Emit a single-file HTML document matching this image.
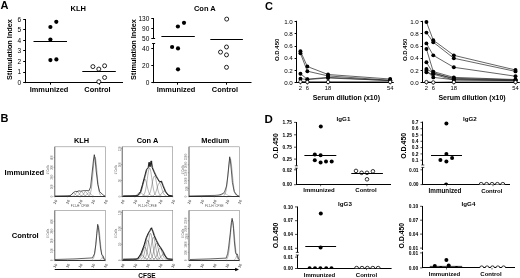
<!DOCTYPE html>
<html><head><meta charset="utf-8"><style>
html,body{margin:0;padding:0;background:#fff;width:520px;height:278px;overflow:hidden}
svg{display:block;font-family:"Liberation Sans", sans-serif;filter:blur(0.3px)}
</style></head><body>
<svg width="520" height="278" viewBox="0 0 520 278">
<rect width="520" height="278" fill="#fff"/>
<text x="0.6" y="9.0" font-size="11" font-weight="bold" text-anchor="start" fill="#000">A</text>
<text x="78.2" y="11" font-size="7.5" font-weight="bold" text-anchor="middle" fill="#000">KLH</text>
<line x1="25.5" y1="19.0" x2="25.5" y2="83.10000000000001" stroke="#000" stroke-width="1.0"/>
<line x1="23.2" y1="82.5" x2="25.5" y2="82.5" stroke="#000" stroke-width="1.0"/>
<text x="21.2" y="85.0" font-size="6.5" text-anchor="end" fill="#000">0</text>
<line x1="23.2" y1="72.5" x2="25.5" y2="72.5" stroke="#000" stroke-width="1.0"/>
<text x="21.2" y="74.42" font-size="6.5" text-anchor="end" fill="#000">1</text>
<line x1="23.2" y1="61.5" x2="25.5" y2="61.5" stroke="#000" stroke-width="1.0"/>
<text x="21.2" y="63.84" font-size="6.5" text-anchor="end" fill="#000">2</text>
<line x1="23.2" y1="50.5" x2="25.5" y2="50.5" stroke="#000" stroke-width="1.0"/>
<text x="21.2" y="53.26" font-size="6.5" text-anchor="end" fill="#000">3</text>
<line x1="23.2" y1="40.5" x2="25.5" y2="40.5" stroke="#000" stroke-width="1.0"/>
<text x="21.2" y="42.68" font-size="6.5" text-anchor="end" fill="#000">4</text>
<line x1="23.2" y1="29.5" x2="25.5" y2="29.5" stroke="#000" stroke-width="1.0"/>
<text x="21.2" y="32.1" font-size="6.5" text-anchor="end" fill="#000">5</text>
<line x1="23.2" y1="19.5" x2="25.5" y2="19.5" stroke="#000" stroke-width="1.0"/>
<text x="21.2" y="21.52" font-size="6.5" text-anchor="end" fill="#000">6</text>
<line x1="25.5" y1="82.5" x2="123" y2="82.5" stroke="#000" stroke-width="1.0"/>
<line x1="50.5" y1="82.7" x2="50.5" y2="84.7" stroke="#000" stroke-width="1.0"/>
<line x1="99.5" y1="82.7" x2="99.5" y2="84.7" stroke="#000" stroke-width="1.0"/>
<circle cx="50.4" cy="27.0" r="2.1" fill="#000"/>
<circle cx="56.3" cy="21.8" r="2.1" fill="#000"/>
<circle cx="50.4" cy="39.6" r="2.1" fill="#000"/>
<circle cx="50.4" cy="60.1" r="2.1" fill="#000"/>
<circle cx="56.4" cy="59.4" r="2.1" fill="#000"/>
<line x1="33.5" y1="41.5" x2="67" y2="41.5" stroke="#000" stroke-width="1.0"/>
<circle cx="92.9" cy="66.6" r="2.0" fill="#fff" stroke="#000" stroke-width="0.85"/>
<circle cx="98.8" cy="69.1" r="2.0" fill="#fff" stroke="#000" stroke-width="0.85"/>
<circle cx="104.6" cy="65.8" r="2.0" fill="#fff" stroke="#000" stroke-width="0.85"/>
<circle cx="104.6" cy="77.5" r="2.0" fill="#fff" stroke="#000" stroke-width="0.85"/>
<circle cx="98.8" cy="81.7" r="2.0" fill="#fff" stroke="#000" stroke-width="0.85"/>
<line x1="82.3" y1="71.5" x2="115.8" y2="71.5" stroke="#000" stroke-width="1.0"/>
<text x="49" y="92.3" font-size="7.4" font-weight="bold" text-anchor="middle" fill="#000">Immunized</text>
<text x="97.5" y="92.3" font-size="7.4" font-weight="bold" text-anchor="middle" fill="#000">Control</text>
<text x="12.2" y="49.5" font-size="7.3" font-weight="bold" text-anchor="middle" fill="#000" transform="rotate(-90 12.2 49.5)">Stimulation Index</text>
<text x="204.8" y="11" font-size="7.5" font-weight="bold" text-anchor="middle" fill="#000">Con A</text>
<line x1="153.5" y1="18.0" x2="153.5" y2="38.9" stroke="#000" stroke-width="1.0"/>
<line x1="153.5" y1="43.9" x2="153.5" y2="83.10000000000001" stroke="#000" stroke-width="1.0"/>
<line x1="151.29999999999998" y1="18.5" x2="153.6" y2="18.5" stroke="#000" stroke-width="1.0"/>
<text x="149.29999999999998" y="20.6" font-size="6.5" text-anchor="end" fill="#000">130</text>
<line x1="151.29999999999998" y1="28.5" x2="153.6" y2="28.5" stroke="#000" stroke-width="1.0"/>
<text x="149.29999999999998" y="30.900000000000002" font-size="6.5" text-anchor="end" fill="#000">90</text>
<line x1="151.29999999999998" y1="38.5" x2="153.6" y2="38.5" stroke="#000" stroke-width="1.0"/>
<text x="149.29999999999998" y="41.199999999999996" font-size="6.5" text-anchor="end" fill="#000">50</text>
<line x1="151.29999999999998" y1="48.5" x2="153.6" y2="48.5" stroke="#000" stroke-width="1.0"/>
<text x="149.29999999999998" y="50.599999999999994" font-size="6.5" text-anchor="end" fill="#000">40</text>
<line x1="151.29999999999998" y1="65.5" x2="153.6" y2="65.5" stroke="#000" stroke-width="1.0"/>
<text x="149.29999999999998" y="67.8" font-size="6.5" text-anchor="end" fill="#000">20</text>
<line x1="151.29999999999998" y1="82.5" x2="153.6" y2="82.5" stroke="#000" stroke-width="1.0"/>
<text x="149.29999999999998" y="85.0" font-size="6.5" text-anchor="end" fill="#000">0</text>
<line x1="152.1" y1="43.5" x2="155.1" y2="43.5" stroke="#000" stroke-width="1.0"/>
<line x1="153.6" y1="38.5" x2="155.1" y2="38.5" stroke="#000" stroke-width="1.0"/>
<line x1="153.6" y1="82.5" x2="251.5" y2="82.5" stroke="#000" stroke-width="1.0"/>
<line x1="177.5" y1="82.7" x2="177.5" y2="84.7" stroke="#000" stroke-width="1.0"/>
<line x1="226.5" y1="82.7" x2="226.5" y2="84.7" stroke="#000" stroke-width="1.0"/>
<circle cx="184" cy="22.8" r="2.1" fill="#000"/>
<circle cx="177.9" cy="26.5" r="2.1" fill="#000"/>
<circle cx="172.1" cy="47" r="2.1" fill="#000"/>
<circle cx="178" cy="48.4" r="2.1" fill="#000"/>
<circle cx="178" cy="69.3" r="2.1" fill="#000"/>
<line x1="161.4" y1="36.5" x2="194.8" y2="36.5" stroke="#000" stroke-width="1.0"/>
<circle cx="226.7" cy="19.1" r="2.0" fill="#fff" stroke="#000" stroke-width="0.85"/>
<circle cx="226.5" cy="47" r="2.0" fill="#fff" stroke="#000" stroke-width="0.85"/>
<circle cx="220.5" cy="52.1" r="2.0" fill="#fff" stroke="#000" stroke-width="0.85"/>
<circle cx="226.5" cy="54.9" r="2.0" fill="#fff" stroke="#000" stroke-width="0.85"/>
<circle cx="226.5" cy="67.3" r="2.0" fill="#fff" stroke="#000" stroke-width="0.85"/>
<line x1="210.3" y1="39.5" x2="242.9" y2="39.5" stroke="#000" stroke-width="1.0"/>
<text x="176" y="92.3" font-size="7.4" font-weight="bold" text-anchor="middle" fill="#000">Immunized</text>
<text x="225" y="92.3" font-size="7.4" font-weight="bold" text-anchor="middle" fill="#000">Control</text>
<text x="136.3" y="49.5" font-size="7.3" font-weight="bold" text-anchor="middle" fill="#000" transform="rotate(-90 136.3 49.5)">Stimulation Index</text>
<text x="265.0" y="9.8" font-size="11" font-weight="bold" text-anchor="start" fill="#000">C</text>
<line x1="296.5" y1="20.8" x2="296.5" y2="83.0" stroke="#000" stroke-width="1.0"/>
<line x1="294.6" y1="82.5" x2="296.8" y2="82.5" stroke="#000" stroke-width="1.0"/>
<text x="292.8" y="84.9" font-size="6.2" text-anchor="end" fill="#000">0.0</text>
<line x1="294.6" y1="70.5" x2="296.8" y2="70.5" stroke="#000" stroke-width="1.0"/>
<text x="292.8" y="72.68" font-size="6.2" text-anchor="end" fill="#000">0.2</text>
<line x1="294.6" y1="58.5" x2="296.8" y2="58.5" stroke="#000" stroke-width="1.0"/>
<text x="292.8" y="60.46000000000001" font-size="6.2" text-anchor="end" fill="#000">0.4</text>
<line x1="294.6" y1="46.5" x2="296.8" y2="46.5" stroke="#000" stroke-width="1.0"/>
<text x="292.8" y="48.24" font-size="6.2" text-anchor="end" fill="#000">0.6</text>
<line x1="294.6" y1="33.5" x2="296.8" y2="33.5" stroke="#000" stroke-width="1.0"/>
<text x="292.8" y="36.02" font-size="6.2" text-anchor="end" fill="#000">0.8</text>
<line x1="294.6" y1="21.5" x2="296.8" y2="21.5" stroke="#000" stroke-width="1.0"/>
<text x="292.8" y="23.8" font-size="6.2" text-anchor="end" fill="#000">1.0</text>
<line x1="296.8" y1="82.5" x2="393.8" y2="82.5" stroke="#000" stroke-width="1.2"/>
<line x1="300.451" y1="82.7" x2="300.451" y2="84.5" stroke="#000" stroke-width="0.7"/>
<text x="300.451" y="90.1" font-size="5.8" text-anchor="middle" fill="#000">2</text>
<line x1="307.353" y1="82.7" x2="307.353" y2="84.5" stroke="#000" stroke-width="0.7"/>
<text x="307.353" y="90.1" font-size="5.8" text-anchor="middle" fill="#000">6</text>
<line x1="328.059" y1="82.7" x2="328.059" y2="84.5" stroke="#000" stroke-width="0.7"/>
<text x="328.059" y="90.1" font-size="5.8" text-anchor="middle" fill="#000">18</text>
<line x1="390.177" y1="82.7" x2="390.177" y2="84.5" stroke="#000" stroke-width="0.7"/>
<text x="390.177" y="90.1" font-size="5.8" text-anchor="middle" fill="#000">54</text>
<polyline points="300.45,51.29 307.35,66.51 328.06,74.51 390.18,79.03" fill="none" stroke="#222" stroke-width="0.7" stroke-linejoin="round"/>
<circle cx="300.451" cy="51.2946" r="1.95" fill="#000"/>
<circle cx="307.353" cy="66.5085" r="1.95" fill="#000"/>
<circle cx="328.059" cy="74.5126" r="1.95" fill="#000"/>
<circle cx="390.177" cy="79.034" r="1.95" fill="#000"/>
<polyline points="300.45,53.31 307.35,71.21 328.06,75.92 390.18,80.26" fill="none" stroke="#222" stroke-width="0.7" stroke-linejoin="round"/>
<circle cx="300.451" cy="53.310900000000004" r="1.95" fill="#000"/>
<circle cx="307.353" cy="71.2132" r="1.95" fill="#000"/>
<circle cx="328.059" cy="75.9179" r="1.95" fill="#000"/>
<circle cx="390.177" cy="80.256" r="1.95" fill="#000"/>
<polyline points="300.45,73.78 307.35,79.22 328.06,77.32 390.18,80.68" fill="none" stroke="#222" stroke-width="0.7" stroke-linejoin="round"/>
<circle cx="300.451" cy="73.77940000000001" r="1.95" fill="#000"/>
<circle cx="307.353" cy="79.21730000000001" r="1.95" fill="#000"/>
<circle cx="328.059" cy="77.3232" r="1.95" fill="#000"/>
<circle cx="390.177" cy="80.6837" r="1.95" fill="#000"/>
<polyline points="300.45,78.73 307.35,79.52 328.06,78.00 390.18,80.50" fill="none" stroke="#222" stroke-width="0.7" stroke-linejoin="round"/>
<circle cx="300.451" cy="78.7285" r="1.95" fill="#000"/>
<circle cx="307.353" cy="79.5228" r="1.95" fill="#000"/>
<circle cx="328.059" cy="77.9953" r="1.95" fill="#000"/>
<circle cx="390.177" cy="80.5004" r="1.95" fill="#000"/>
<polyline points="300.45,81.72 307.35,81.97 328.06,81.97 390.18,81.97" fill="none" stroke="#000" stroke-width="0.9" stroke-linejoin="round"/>
<circle cx="300.451" cy="81.72240000000001" r="1.7" fill="#fff" stroke="#000" stroke-width="0.8"/>
<circle cx="307.353" cy="81.9668" r="1.7" fill="#fff" stroke="#000" stroke-width="0.8"/>
<circle cx="328.059" cy="81.9668" r="1.7" fill="#fff" stroke="#000" stroke-width="0.8"/>
<circle cx="390.177" cy="81.9668" r="1.7" fill="#fff" stroke="#000" stroke-width="0.8"/>
<text x="312.7" y="99.8" font-size="7.0" font-weight="bold" text-anchor="start" fill="#000">Serum dilution (x10)</text>
<text x="279.4" y="49.8" font-size="6.0" font-weight="bold" text-anchor="middle" fill="#000" transform="rotate(-90 279.4 49.8)">O.D.450</text>
<line x1="422.5" y1="20.8" x2="422.5" y2="83.0" stroke="#000" stroke-width="1.0"/>
<line x1="420.6" y1="82.5" x2="422.8" y2="82.5" stroke="#000" stroke-width="1.0"/>
<text x="418.8" y="84.9" font-size="6.2" text-anchor="end" fill="#000">0.0</text>
<line x1="420.6" y1="70.5" x2="422.8" y2="70.5" stroke="#000" stroke-width="1.0"/>
<text x="418.8" y="72.68" font-size="6.2" text-anchor="end" fill="#000">0.2</text>
<line x1="420.6" y1="58.5" x2="422.8" y2="58.5" stroke="#000" stroke-width="1.0"/>
<text x="418.8" y="60.46000000000001" font-size="6.2" text-anchor="end" fill="#000">0.4</text>
<line x1="420.6" y1="46.5" x2="422.8" y2="46.5" stroke="#000" stroke-width="1.0"/>
<text x="418.8" y="48.24" font-size="6.2" text-anchor="end" fill="#000">0.6</text>
<line x1="420.6" y1="33.5" x2="422.8" y2="33.5" stroke="#000" stroke-width="1.0"/>
<text x="418.8" y="36.02" font-size="6.2" text-anchor="end" fill="#000">0.8</text>
<line x1="420.6" y1="21.5" x2="422.8" y2="21.5" stroke="#000" stroke-width="1.0"/>
<text x="418.8" y="23.8" font-size="6.2" text-anchor="end" fill="#000">1.0</text>
<line x1="422.8" y1="82.5" x2="519.8" y2="82.5" stroke="#000" stroke-width="1.2"/>
<line x1="426.426" y1="82.7" x2="426.426" y2="84.5" stroke="#000" stroke-width="0.7"/>
<text x="426.426" y="90.1" font-size="5.8" text-anchor="middle" fill="#000">2</text>
<line x1="433.278" y1="82.7" x2="433.278" y2="84.5" stroke="#000" stroke-width="0.7"/>
<text x="433.278" y="90.1" font-size="5.8" text-anchor="middle" fill="#000">6</text>
<line x1="453.834" y1="82.7" x2="453.834" y2="84.5" stroke="#000" stroke-width="0.7"/>
<text x="453.834" y="90.1" font-size="5.8" text-anchor="middle" fill="#000">18</text>
<line x1="515.502" y1="82.7" x2="515.502" y2="84.5" stroke="#000" stroke-width="0.7"/>
<text x="515.502" y="90.1" font-size="5.8" text-anchor="middle" fill="#000">54</text>
<polyline points="426.43,22.03 433.28,40.17 453.83,55.33 515.50,69.99" fill="none" stroke="#222" stroke-width="0.7" stroke-linejoin="round"/>
<circle cx="426.426" cy="22.027700000000003" r="1.95" fill="#000"/>
<circle cx="433.278" cy="40.174400000000006" r="1.95" fill="#000"/>
<circle cx="453.834" cy="55.327200000000005" r="1.95" fill="#000"/>
<circle cx="515.502" cy="69.9912" r="1.95" fill="#000"/>
<polyline points="426.43,32.60 433.28,42.19 453.83,58.26 515.50,71.40" fill="none" stroke="#222" stroke-width="0.7" stroke-linejoin="round"/>
<circle cx="426.426" cy="32.598000000000006" r="1.95" fill="#000"/>
<circle cx="433.278" cy="42.1907" r="1.95" fill="#000"/>
<circle cx="453.834" cy="58.260000000000005" r="1.95" fill="#000"/>
<circle cx="515.502" cy="71.3965" r="1.95" fill="#000"/>
<polyline points="426.43,43.41 433.28,55.33 453.83,67.30 515.50,76.22" fill="none" stroke="#222" stroke-width="0.7" stroke-linejoin="round"/>
<circle cx="426.426" cy="43.4127" r="1.95" fill="#000"/>
<circle cx="433.278" cy="55.327200000000005" r="1.95" fill="#000"/>
<circle cx="453.834" cy="67.3028" r="1.95" fill="#000"/>
<circle cx="515.502" cy="76.2234" r="1.95" fill="#000"/>
<polyline points="426.43,48.97 433.28,71.58 453.83,77.38 515.50,79.52" fill="none" stroke="#222" stroke-width="0.7" stroke-linejoin="round"/>
<circle cx="426.426" cy="48.9728" r="1.95" fill="#000"/>
<circle cx="433.278" cy="71.5798" r="1.95" fill="#000"/>
<circle cx="453.834" cy="77.3843" r="1.95" fill="#000"/>
<circle cx="515.502" cy="79.5228" r="1.95" fill="#000"/>
<polyline points="426.43,62.29 433.28,73.41 453.83,78.30 515.50,79.83" fill="none" stroke="#222" stroke-width="0.7" stroke-linejoin="round"/>
<circle cx="426.426" cy="62.2926" r="1.95" fill="#000"/>
<circle cx="433.278" cy="73.4128" r="1.95" fill="#000"/>
<circle cx="453.834" cy="78.30080000000001" r="1.95" fill="#000"/>
<circle cx="515.502" cy="79.8283" r="1.95" fill="#000"/>
<polyline points="426.43,69.07 433.28,72.68 453.83,79.03 515.50,80.26" fill="none" stroke="#222" stroke-width="0.7" stroke-linejoin="round"/>
<circle cx="426.426" cy="69.0747" r="1.95" fill="#000"/>
<circle cx="433.278" cy="72.67960000000001" r="1.95" fill="#000"/>
<circle cx="453.834" cy="79.034" r="1.95" fill="#000"/>
<circle cx="515.502" cy="80.256" r="1.95" fill="#000"/>
<polyline points="426.43,70.79 433.28,77.38 453.83,79.71 515.50,80.68" fill="none" stroke="#222" stroke-width="0.7" stroke-linejoin="round"/>
<circle cx="426.426" cy="70.7855" r="1.95" fill="#000"/>
<circle cx="433.278" cy="77.3843" r="1.95" fill="#000"/>
<circle cx="453.834" cy="79.7061" r="1.95" fill="#000"/>
<circle cx="515.502" cy="80.6837" r="1.95" fill="#000"/>
<polyline points="426.43,72.37 433.28,74.15 453.83,80.01 515.50,80.50" fill="none" stroke="#222" stroke-width="0.7" stroke-linejoin="round"/>
<circle cx="426.426" cy="72.3741" r="1.95" fill="#000"/>
<circle cx="433.278" cy="74.146" r="1.95" fill="#000"/>
<circle cx="453.834" cy="80.0116" r="1.95" fill="#000"/>
<circle cx="515.502" cy="80.5004" r="1.95" fill="#000"/>
<polyline points="426.43,82.09 433.28,82.39 453.83,82.09 515.50,82.09" fill="none" stroke="#000" stroke-width="0.9" stroke-linejoin="round"/>
<circle cx="426.426" cy="82.089" r="1.7" fill="#fff" stroke="#000" stroke-width="0.8"/>
<circle cx="433.278" cy="82.39450000000001" r="1.7" fill="#fff" stroke="#000" stroke-width="0.8"/>
<circle cx="453.834" cy="82.089" r="1.7" fill="#fff" stroke="#000" stroke-width="0.8"/>
<circle cx="515.502" cy="82.089" r="1.7" fill="#fff" stroke="#000" stroke-width="0.8"/>
<text x="438.4" y="99.8" font-size="7.0" font-weight="bold" text-anchor="start" fill="#000">Serum dilution (x10)</text>
<text x="407.2" y="49.8" font-size="6.0" font-weight="bold" text-anchor="middle" fill="#000" transform="rotate(-90 407.2 49.8)">O.D.450</text>
<text x="0.6" y="121.7" font-size="11" font-weight="bold" text-anchor="start" fill="#000">B</text>
<text x="81.6" y="142.9" font-size="7.4" font-weight="bold" text-anchor="middle" fill="#000">KLH</text>
<text x="147.5" y="142.9" font-size="7.4" font-weight="bold" text-anchor="middle" fill="#000">Con A</text>
<text x="215.3" y="142.9" font-size="7.4" font-weight="bold" text-anchor="middle" fill="#000">Medium</text>
<text x="4.6" y="175.3" font-size="7.6" font-weight="bold" text-anchor="start" fill="#000">Immunized</text>
<text x="11.7" y="237.6" font-size="7.6" font-weight="bold" text-anchor="start" fill="#000">Control</text>
<rect x="54.8" y="146.8" width="50.5" height="49.6" fill="none" stroke="#8a8a8a" stroke-width="0.6"/>
<line x1="54.8" y1="146.8" x2="54.8" y2="196.4" stroke="#555" stroke-width="0.7"/>
<line x1="54.8" y1="196.5" x2="105.3" y2="196.5" stroke="#333" stroke-width="1.0"/>
<line x1="53.599999999999994" y1="196.4" x2="54.8" y2="196.4" stroke="#666" stroke-width="0.5"/>
<text x="53.3" y="196.4" font-size="3.0" text-anchor="middle" fill="#777" transform="rotate(-90 53.3 196.4)">0</text>
<line x1="53.599999999999994" y1="186.70000000000002" x2="54.8" y2="186.70000000000002" stroke="#666" stroke-width="0.5"/>
<text x="53.3" y="186.70000000000002" font-size="3.0" text-anchor="middle" fill="#777" transform="rotate(-90 53.3 186.70000000000002)">100</text>
<line x1="53.599999999999994" y1="177.0" x2="54.8" y2="177.0" stroke="#666" stroke-width="0.5"/>
<text x="53.3" y="177.0" font-size="3.0" text-anchor="middle" fill="#777" transform="rotate(-90 53.3 177.0)">200</text>
<line x1="53.599999999999994" y1="167.3" x2="54.8" y2="167.3" stroke="#666" stroke-width="0.5"/>
<text x="53.3" y="167.3" font-size="3.0" text-anchor="middle" fill="#777" transform="rotate(-90 53.3 167.3)">300</text>
<line x1="53.599999999999994" y1="157.60000000000002" x2="54.8" y2="157.60000000000002" stroke="#666" stroke-width="0.5"/>
<text x="53.3" y="157.60000000000002" font-size="3.0" text-anchor="middle" fill="#777" transform="rotate(-90 53.3 157.60000000000002)">400</text>
<text x="49.4" y="169.60000000000002" font-size="3.0" text-anchor="middle" fill="#666" transform="rotate(-90 49.4 169.60000000000002)"># Cells</text>
<line x1="54.8" y1="196.4" x2="54.8" y2="197.4" stroke="#666" stroke-width="0.5"/>
<text x="56.4" y="202.6" font-size="3.8" font-weight="bold" text-anchor="middle" fill="#5a5a5a" transform="rotate(-60 56.4 202.6)">10</text>
<line x1="67.425" y1="196.4" x2="67.425" y2="197.4" stroke="#666" stroke-width="0.5"/>
<text x="69.02499999999999" y="202.6" font-size="3.8" font-weight="bold" text-anchor="middle" fill="#5a5a5a" transform="rotate(-60 69.02499999999999 202.6)">10</text>
<line x1="80.05" y1="196.4" x2="80.05" y2="197.4" stroke="#666" stroke-width="0.5"/>
<text x="81.64999999999999" y="202.6" font-size="3.8" font-weight="bold" text-anchor="middle" fill="#5a5a5a" transform="rotate(-60 81.64999999999999 202.6)">10</text>
<line x1="92.675" y1="196.4" x2="92.675" y2="197.4" stroke="#666" stroke-width="0.5"/>
<text x="94.27499999999999" y="202.6" font-size="3.8" font-weight="bold" text-anchor="middle" fill="#5a5a5a" transform="rotate(-60 94.27499999999999 202.6)">10</text>
<line x1="105.3" y1="196.4" x2="105.3" y2="197.4" stroke="#666" stroke-width="0.5"/>
<text x="106.89999999999999" y="202.6" font-size="3.8" font-weight="bold" text-anchor="middle" fill="#5a5a5a" transform="rotate(-60 106.89999999999999 202.6)">10</text>
<text x="80.05" y="206.8" font-size="3.1" text-anchor="middle" fill="#555">FL1-H: CFSE</text>
<rect x="122.2" y="146.8" width="50.5" height="49.6" fill="none" stroke="#8a8a8a" stroke-width="0.6"/>
<line x1="122.2" y1="146.8" x2="122.2" y2="196.4" stroke="#555" stroke-width="0.7"/>
<line x1="122.2" y1="196.5" x2="172.7" y2="196.5" stroke="#333" stroke-width="1.0"/>
<line x1="121.0" y1="196.4" x2="122.2" y2="196.4" stroke="#666" stroke-width="0.5"/>
<text x="120.7" y="196.4" font-size="3.0" text-anchor="middle" fill="#777" transform="rotate(-90 120.7 196.4)">0</text>
<line x1="121.0" y1="180.5" x2="122.2" y2="180.5" stroke="#666" stroke-width="0.5"/>
<text x="120.7" y="180.5" font-size="3.0" text-anchor="middle" fill="#777" transform="rotate(-90 120.7 180.5)">50</text>
<line x1="121.0" y1="164.6" x2="122.2" y2="164.6" stroke="#666" stroke-width="0.5"/>
<text x="120.7" y="164.6" font-size="3.0" text-anchor="middle" fill="#777" transform="rotate(-90 120.7 164.6)">100</text>
<line x1="121.0" y1="148.7" x2="122.2" y2="148.7" stroke="#666" stroke-width="0.5"/>
<text x="120.7" y="148.7" font-size="3.0" text-anchor="middle" fill="#777" transform="rotate(-90 120.7 148.7)">150</text>
<text x="116.8" y="169.60000000000002" font-size="3.0" text-anchor="middle" fill="#666" transform="rotate(-90 116.8 169.60000000000002)"># Cells</text>
<line x1="122.2" y1="196.4" x2="122.2" y2="197.4" stroke="#666" stroke-width="0.5"/>
<text x="123.8" y="202.6" font-size="3.8" font-weight="bold" text-anchor="middle" fill="#5a5a5a" transform="rotate(-60 123.8 202.6)">10</text>
<line x1="134.825" y1="196.4" x2="134.825" y2="197.4" stroke="#666" stroke-width="0.5"/>
<text x="136.42499999999998" y="202.6" font-size="3.8" font-weight="bold" text-anchor="middle" fill="#5a5a5a" transform="rotate(-60 136.42499999999998 202.6)">10</text>
<line x1="147.45" y1="196.4" x2="147.45" y2="197.4" stroke="#666" stroke-width="0.5"/>
<text x="149.04999999999998" y="202.6" font-size="3.8" font-weight="bold" text-anchor="middle" fill="#5a5a5a" transform="rotate(-60 149.04999999999998 202.6)">10</text>
<line x1="160.075" y1="196.4" x2="160.075" y2="197.4" stroke="#666" stroke-width="0.5"/>
<text x="161.67499999999998" y="202.6" font-size="3.8" font-weight="bold" text-anchor="middle" fill="#5a5a5a" transform="rotate(-60 161.67499999999998 202.6)">10</text>
<line x1="172.7" y1="196.4" x2="172.7" y2="197.4" stroke="#666" stroke-width="0.5"/>
<text x="174.29999999999998" y="202.6" font-size="3.8" font-weight="bold" text-anchor="middle" fill="#5a5a5a" transform="rotate(-60 174.29999999999998 202.6)">10</text>
<text x="147.45" y="206.8" font-size="3.1" text-anchor="middle" fill="#555">FL1-H: CFSE</text>
<rect x="189.0" y="146.8" width="50.5" height="49.6" fill="none" stroke="#8a8a8a" stroke-width="0.6"/>
<line x1="189.0" y1="146.8" x2="189.0" y2="196.4" stroke="#555" stroke-width="0.7"/>
<line x1="189.0" y1="196.5" x2="239.5" y2="196.5" stroke="#333" stroke-width="1.0"/>
<line x1="187.8" y1="196.4" x2="189.0" y2="196.4" stroke="#666" stroke-width="0.5"/>
<text x="187.5" y="196.4" font-size="3.0" text-anchor="middle" fill="#777" transform="rotate(-90 187.5 196.4)">0</text>
<line x1="187.8" y1="188.5" x2="189.0" y2="188.5" stroke="#666" stroke-width="0.5"/>
<text x="187.5" y="188.5" font-size="3.0" text-anchor="middle" fill="#777" transform="rotate(-90 187.5 188.5)">500</text>
<line x1="187.8" y1="180.6" x2="189.0" y2="180.6" stroke="#666" stroke-width="0.5"/>
<text x="187.5" y="180.6" font-size="3.0" text-anchor="middle" fill="#777" transform="rotate(-90 187.5 180.6)">1000</text>
<line x1="187.8" y1="172.70000000000002" x2="189.0" y2="172.70000000000002" stroke="#666" stroke-width="0.5"/>
<text x="187.5" y="172.70000000000002" font-size="3.0" text-anchor="middle" fill="#777" transform="rotate(-90 187.5 172.70000000000002)">1500</text>
<line x1="187.8" y1="164.8" x2="189.0" y2="164.8" stroke="#666" stroke-width="0.5"/>
<text x="187.5" y="164.8" font-size="3.0" text-anchor="middle" fill="#777" transform="rotate(-90 187.5 164.8)">2000</text>
<line x1="187.8" y1="156.9" x2="189.0" y2="156.9" stroke="#666" stroke-width="0.5"/>
<text x="187.5" y="156.9" font-size="3.0" text-anchor="middle" fill="#777" transform="rotate(-90 187.5 156.9)">2500</text>
<text x="183.6" y="169.60000000000002" font-size="3.0" text-anchor="middle" fill="#666" transform="rotate(-90 183.6 169.60000000000002)"># Cells</text>
<line x1="189.0" y1="196.4" x2="189.0" y2="197.4" stroke="#666" stroke-width="0.5"/>
<text x="190.6" y="202.6" font-size="3.8" font-weight="bold" text-anchor="middle" fill="#5a5a5a" transform="rotate(-60 190.6 202.6)">10</text>
<line x1="201.625" y1="196.4" x2="201.625" y2="197.4" stroke="#666" stroke-width="0.5"/>
<text x="203.225" y="202.6" font-size="3.8" font-weight="bold" text-anchor="middle" fill="#5a5a5a" transform="rotate(-60 203.225 202.6)">10</text>
<line x1="214.25" y1="196.4" x2="214.25" y2="197.4" stroke="#666" stroke-width="0.5"/>
<text x="215.85" y="202.6" font-size="3.8" font-weight="bold" text-anchor="middle" fill="#5a5a5a" transform="rotate(-60 215.85 202.6)">10</text>
<line x1="226.875" y1="196.4" x2="226.875" y2="197.4" stroke="#666" stroke-width="0.5"/>
<text x="228.475" y="202.6" font-size="3.8" font-weight="bold" text-anchor="middle" fill="#5a5a5a" transform="rotate(-60 228.475 202.6)">10</text>
<line x1="239.5" y1="196.4" x2="239.5" y2="197.4" stroke="#666" stroke-width="0.5"/>
<text x="241.1" y="202.6" font-size="3.8" font-weight="bold" text-anchor="middle" fill="#5a5a5a" transform="rotate(-60 241.1 202.6)">10</text>
<text x="214.25" y="206.8" font-size="3.1" text-anchor="middle" fill="#555">FL1-H: CFSE</text>
<rect x="54.8" y="210.6" width="50.5" height="49.6" fill="none" stroke="#8a8a8a" stroke-width="0.6"/>
<line x1="54.8" y1="210.6" x2="54.8" y2="260.2" stroke="#555" stroke-width="0.7"/>
<line x1="54.8" y1="260.5" x2="105.3" y2="260.5" stroke="#333" stroke-width="1.0"/>
<line x1="53.599999999999994" y1="260.2" x2="54.8" y2="260.2" stroke="#666" stroke-width="0.5"/>
<text x="53.3" y="260.2" font-size="3.0" text-anchor="middle" fill="#777" transform="rotate(-90 53.3 260.2)">0</text>
<line x1="53.599999999999994" y1="250.5" x2="54.8" y2="250.5" stroke="#666" stroke-width="0.5"/>
<text x="53.3" y="250.5" font-size="3.0" text-anchor="middle" fill="#777" transform="rotate(-90 53.3 250.5)">100</text>
<line x1="53.599999999999994" y1="240.79999999999998" x2="54.8" y2="240.79999999999998" stroke="#666" stroke-width="0.5"/>
<text x="53.3" y="240.79999999999998" font-size="3.0" text-anchor="middle" fill="#777" transform="rotate(-90 53.3 240.79999999999998)">200</text>
<line x1="53.599999999999994" y1="231.1" x2="54.8" y2="231.1" stroke="#666" stroke-width="0.5"/>
<text x="53.3" y="231.1" font-size="3.0" text-anchor="middle" fill="#777" transform="rotate(-90 53.3 231.1)">300</text>
<line x1="53.599999999999994" y1="221.39999999999998" x2="54.8" y2="221.39999999999998" stroke="#666" stroke-width="0.5"/>
<text x="53.3" y="221.39999999999998" font-size="3.0" text-anchor="middle" fill="#777" transform="rotate(-90 53.3 221.39999999999998)">400</text>
<text x="49.4" y="233.4" font-size="3.0" text-anchor="middle" fill="#666" transform="rotate(-90 49.4 233.4)"># Cells</text>
<line x1="54.8" y1="260.2" x2="54.8" y2="261.2" stroke="#666" stroke-width="0.5"/>
<text x="56.4" y="266.4" font-size="3.8" font-weight="bold" text-anchor="middle" fill="#5a5a5a" transform="rotate(-60 56.4 266.4)">10</text>
<line x1="67.425" y1="260.2" x2="67.425" y2="261.2" stroke="#666" stroke-width="0.5"/>
<text x="69.02499999999999" y="266.4" font-size="3.8" font-weight="bold" text-anchor="middle" fill="#5a5a5a" transform="rotate(-60 69.02499999999999 266.4)">10</text>
<line x1="80.05" y1="260.2" x2="80.05" y2="261.2" stroke="#666" stroke-width="0.5"/>
<text x="81.64999999999999" y="266.4" font-size="3.8" font-weight="bold" text-anchor="middle" fill="#5a5a5a" transform="rotate(-60 81.64999999999999 266.4)">10</text>
<line x1="92.675" y1="260.2" x2="92.675" y2="261.2" stroke="#666" stroke-width="0.5"/>
<text x="94.27499999999999" y="266.4" font-size="3.8" font-weight="bold" text-anchor="middle" fill="#5a5a5a" transform="rotate(-60 94.27499999999999 266.4)">10</text>
<line x1="105.3" y1="260.2" x2="105.3" y2="261.2" stroke="#666" stroke-width="0.5"/>
<text x="106.89999999999999" y="266.4" font-size="3.8" font-weight="bold" text-anchor="middle" fill="#5a5a5a" transform="rotate(-60 106.89999999999999 266.4)">10</text>
<rect x="122.2" y="210.6" width="50.5" height="49.6" fill="none" stroke="#8a8a8a" stroke-width="0.6"/>
<line x1="122.2" y1="210.6" x2="122.2" y2="260.2" stroke="#555" stroke-width="0.7"/>
<line x1="122.2" y1="260.5" x2="172.7" y2="260.5" stroke="#333" stroke-width="1.0"/>
<line x1="121.0" y1="260.2" x2="122.2" y2="260.2" stroke="#666" stroke-width="0.5"/>
<text x="120.7" y="260.2" font-size="3.0" text-anchor="middle" fill="#777" transform="rotate(-90 120.7 260.2)">0</text>
<line x1="121.0" y1="244.29999999999998" x2="122.2" y2="244.29999999999998" stroke="#666" stroke-width="0.5"/>
<text x="120.7" y="244.29999999999998" font-size="3.0" text-anchor="middle" fill="#777" transform="rotate(-90 120.7 244.29999999999998)">50</text>
<line x1="121.0" y1="228.39999999999998" x2="122.2" y2="228.39999999999998" stroke="#666" stroke-width="0.5"/>
<text x="120.7" y="228.39999999999998" font-size="3.0" text-anchor="middle" fill="#777" transform="rotate(-90 120.7 228.39999999999998)">100</text>
<line x1="121.0" y1="212.5" x2="122.2" y2="212.5" stroke="#666" stroke-width="0.5"/>
<text x="120.7" y="212.5" font-size="3.0" text-anchor="middle" fill="#777" transform="rotate(-90 120.7 212.5)">150</text>
<text x="116.8" y="233.4" font-size="3.0" text-anchor="middle" fill="#666" transform="rotate(-90 116.8 233.4)"># Cells</text>
<line x1="122.2" y1="260.2" x2="122.2" y2="261.2" stroke="#666" stroke-width="0.5"/>
<text x="123.8" y="266.4" font-size="3.8" font-weight="bold" text-anchor="middle" fill="#5a5a5a" transform="rotate(-60 123.8 266.4)">10</text>
<line x1="134.825" y1="260.2" x2="134.825" y2="261.2" stroke="#666" stroke-width="0.5"/>
<text x="136.42499999999998" y="266.4" font-size="3.8" font-weight="bold" text-anchor="middle" fill="#5a5a5a" transform="rotate(-60 136.42499999999998 266.4)">10</text>
<line x1="147.45" y1="260.2" x2="147.45" y2="261.2" stroke="#666" stroke-width="0.5"/>
<text x="149.04999999999998" y="266.4" font-size="3.8" font-weight="bold" text-anchor="middle" fill="#5a5a5a" transform="rotate(-60 149.04999999999998 266.4)">10</text>
<line x1="160.075" y1="260.2" x2="160.075" y2="261.2" stroke="#666" stroke-width="0.5"/>
<text x="161.67499999999998" y="266.4" font-size="3.8" font-weight="bold" text-anchor="middle" fill="#5a5a5a" transform="rotate(-60 161.67499999999998 266.4)">10</text>
<line x1="172.7" y1="260.2" x2="172.7" y2="261.2" stroke="#666" stroke-width="0.5"/>
<text x="174.29999999999998" y="266.4" font-size="3.8" font-weight="bold" text-anchor="middle" fill="#5a5a5a" transform="rotate(-60 174.29999999999998 266.4)">10</text>
<rect x="189.0" y="210.6" width="50.5" height="49.6" fill="none" stroke="#8a8a8a" stroke-width="0.6"/>
<line x1="189.0" y1="210.6" x2="189.0" y2="260.2" stroke="#555" stroke-width="0.7"/>
<line x1="189.0" y1="260.5" x2="239.5" y2="260.5" stroke="#333" stroke-width="1.0"/>
<line x1="187.8" y1="260.2" x2="189.0" y2="260.2" stroke="#666" stroke-width="0.5"/>
<text x="187.5" y="260.2" font-size="3.0" text-anchor="middle" fill="#777" transform="rotate(-90 187.5 260.2)">0</text>
<line x1="187.8" y1="252.29999999999998" x2="189.0" y2="252.29999999999998" stroke="#666" stroke-width="0.5"/>
<text x="187.5" y="252.29999999999998" font-size="3.0" text-anchor="middle" fill="#777" transform="rotate(-90 187.5 252.29999999999998)">500</text>
<line x1="187.8" y1="244.39999999999998" x2="189.0" y2="244.39999999999998" stroke="#666" stroke-width="0.5"/>
<text x="187.5" y="244.39999999999998" font-size="3.0" text-anchor="middle" fill="#777" transform="rotate(-90 187.5 244.39999999999998)">1000</text>
<line x1="187.8" y1="236.5" x2="189.0" y2="236.5" stroke="#666" stroke-width="0.5"/>
<text x="187.5" y="236.5" font-size="3.0" text-anchor="middle" fill="#777" transform="rotate(-90 187.5 236.5)">1500</text>
<line x1="187.8" y1="228.6" x2="189.0" y2="228.6" stroke="#666" stroke-width="0.5"/>
<text x="187.5" y="228.6" font-size="3.0" text-anchor="middle" fill="#777" transform="rotate(-90 187.5 228.6)">2000</text>
<line x1="187.8" y1="220.7" x2="189.0" y2="220.7" stroke="#666" stroke-width="0.5"/>
<text x="187.5" y="220.7" font-size="3.0" text-anchor="middle" fill="#777" transform="rotate(-90 187.5 220.7)">2500</text>
<text x="183.6" y="233.4" font-size="3.0" text-anchor="middle" fill="#666" transform="rotate(-90 183.6 233.4)"># Cells</text>
<line x1="189.0" y1="260.2" x2="189.0" y2="261.2" stroke="#666" stroke-width="0.5"/>
<text x="190.6" y="266.4" font-size="3.8" font-weight="bold" text-anchor="middle" fill="#5a5a5a" transform="rotate(-60 190.6 266.4)">10</text>
<line x1="201.625" y1="260.2" x2="201.625" y2="261.2" stroke="#666" stroke-width="0.5"/>
<text x="203.225" y="266.4" font-size="3.8" font-weight="bold" text-anchor="middle" fill="#5a5a5a" transform="rotate(-60 203.225 266.4)">10</text>
<line x1="214.25" y1="260.2" x2="214.25" y2="261.2" stroke="#666" stroke-width="0.5"/>
<text x="215.85" y="266.4" font-size="3.8" font-weight="bold" text-anchor="middle" fill="#5a5a5a" transform="rotate(-60 215.85 266.4)">10</text>
<line x1="226.875" y1="260.2" x2="226.875" y2="261.2" stroke="#666" stroke-width="0.5"/>
<text x="228.475" y="266.4" font-size="3.8" font-weight="bold" text-anchor="middle" fill="#5a5a5a" transform="rotate(-60 228.475 266.4)">10</text>
<line x1="239.5" y1="260.2" x2="239.5" y2="261.2" stroke="#666" stroke-width="0.5"/>
<text x="241.1" y="266.4" font-size="3.8" font-weight="bold" text-anchor="middle" fill="#5a5a5a" transform="rotate(-60 241.1 266.4)">10</text>
<polyline points="68.38,195.98 68.88,195.95 69.38,195.88 69.88,195.75 70.38,195.52 70.88,195.16 71.38,194.67 71.88,194.08 72.38,193.50 72.88,193.03 73.38,192.81 73.88,192.89 74.38,193.25 74.88,193.79 75.38,194.40 75.88,194.94 76.38,195.37 76.88,195.66 77.38,195.83 77.88,195.92 78.38,195.97" fill="none" stroke="#555" stroke-width="0.4" stroke-linejoin="round"/>
<polyline points="72.38,195.97 72.88,195.94 73.38,195.85 73.88,195.68 74.38,195.37 74.88,194.90 75.38,194.25 75.88,193.48 76.38,192.71 76.88,192.10 77.38,191.81 77.88,191.92 78.38,192.39 78.88,193.10 79.38,193.89 79.88,194.61 80.38,195.17 80.88,195.55 81.38,195.78 81.88,195.90 82.38,195.96" fill="none" stroke="#555" stroke-width="0.4" stroke-linejoin="round"/>
<polyline points="76.38,195.97 76.88,195.93 77.38,195.84 77.88,195.67 78.38,195.36 78.88,194.87 79.38,194.21 79.88,193.42 80.38,192.63 80.88,192.01 81.38,191.71 81.88,191.82 82.38,192.30 82.88,193.04 83.38,193.84 83.88,194.58 84.38,195.15 84.88,195.54 85.38,195.77 85.88,195.90 86.38,195.96" fill="none" stroke="#555" stroke-width="0.4" stroke-linejoin="round"/>
<polyline points="80.38,195.97 80.88,195.93 81.38,195.84 81.88,195.67 82.38,195.36 82.88,194.87 83.38,194.21 83.88,193.42 84.38,192.63 84.88,192.01 85.38,191.71 85.88,191.82 86.38,192.30 86.88,193.04 87.38,193.84 87.88,194.58 88.38,195.15 88.88,195.54 89.38,195.77 89.88,195.90 90.38,195.96" fill="none" stroke="#555" stroke-width="0.4" stroke-linejoin="round"/>
<polyline points="83.88,195.98 84.38,195.95 84.88,195.87 85.38,195.73 85.88,195.48 86.38,195.08 86.88,194.55 87.38,193.90 87.88,193.26 88.38,192.75 88.88,192.51 89.38,192.60 89.88,192.99 90.38,193.59 90.88,194.25 91.38,194.84 91.88,195.31 92.38,195.62 92.88,195.82 93.38,195.92 93.88,195.97" fill="none" stroke="#555" stroke-width="0.4" stroke-linejoin="round"/>
<polyline points="88.60,195.77 89.10,195.50 89.60,194.98 90.10,194.06 90.60,192.53 91.10,190.17 91.60,186.81 92.10,182.37 92.60,177.02 93.10,171.16 93.60,165.47 94.10,160.76 94.60,157.77 95.10,157.05 95.60,158.72 96.10,162.47 96.60,167.68 97.10,173.53 97.60,179.25 98.10,184.27 98.60,188.28 99.10,191.23 99.60,193.23 100.10,194.49 100.60,195.23 101.10,195.63" fill="none" stroke="#666" stroke-width="0.5" stroke-linejoin="round"/>
<polyline points="55.00,196.00 70.00,195.70 71.70,194.50 73.50,192.40 75.50,191.40 77.00,191.60 79.00,190.80 80.50,191.20 82.00,191.00 83.50,190.60 85.00,190.80 86.80,190.50 88.80,191.00 90.60,187.00 92.20,172.00 93.60,159.00 94.30,154.70 95.10,159.00 96.20,171.00 97.80,184.40 99.60,191.60 102.30,194.20 104.00,195.60 105.20,196.00" fill="none" stroke="#111" stroke-width="0.7" stroke-linejoin="round"/>
<polyline points="132.64,195.98 133.14,195.96 133.64,195.92 134.14,195.86 134.64,195.77 135.14,195.62 135.64,195.42 136.14,195.14 136.64,194.80 137.14,194.38 137.64,193.93 138.14,193.48 138.64,193.06 139.14,192.74 139.64,192.54 140.14,192.51 140.64,192.63 141.14,192.90 141.64,193.29 142.14,193.73 142.64,194.19 143.14,194.62 143.64,195.00 144.14,195.31 144.64,195.54 145.14,195.71 145.64,195.83 146.14,195.90 146.64,195.95 147.14,195.97" fill="none" stroke="#444" stroke-width="0.4" stroke-linejoin="round"/>
<polyline points="137.44,195.90 137.94,195.80 138.44,195.63 138.94,195.34 139.44,194.88 139.94,194.18 140.44,193.18 140.94,191.84 141.44,190.15 141.94,188.15 142.44,185.96 142.94,183.74 143.44,181.73 143.94,180.15 144.44,179.21 144.94,179.03 145.44,179.65 145.94,180.97 146.44,182.82 146.94,184.97 147.44,187.20 147.94,189.31 148.44,191.14 148.94,192.64 149.44,193.78 149.94,194.60 150.44,195.16 150.94,195.52 151.44,195.74 151.94,195.86" fill="none" stroke="#444" stroke-width="0.4" stroke-linejoin="round"/>
<polyline points="142.24,195.83 142.74,195.67 143.24,195.39 143.74,194.91 144.24,194.15 144.74,193.00 145.24,191.36 145.74,189.15 146.24,186.37 146.74,183.08 147.24,179.46 147.74,175.81 148.24,172.49 148.74,169.89 149.24,168.34 149.74,168.05 150.24,169.06 150.74,171.24 151.24,174.29 151.74,177.84 152.24,181.51 152.74,184.97 153.24,188.00 153.74,190.46 154.24,192.34 154.74,193.70 155.24,194.62 155.74,195.21 156.24,195.57 156.74,195.77" fill="none" stroke="#444" stroke-width="0.4" stroke-linejoin="round"/>
<polyline points="147.04,195.88 147.54,195.77 148.04,195.56 148.54,195.22 149.04,194.68 149.54,193.85 150.04,192.68 150.54,191.11 151.04,189.12 151.54,186.77 152.04,184.19 152.54,181.58 153.04,179.21 153.54,177.35 154.04,176.24 154.54,176.04 155.04,176.76 155.54,178.31 156.04,180.49 156.54,183.03 157.04,185.65 157.54,188.12 158.04,190.28 158.54,192.04 159.04,193.39 159.54,194.35 160.04,195.01 160.54,195.43 161.04,195.69 161.54,195.84" fill="none" stroke="#444" stroke-width="0.4" stroke-linejoin="round"/>
<polyline points="152.04,195.92 152.54,195.85 153.04,195.72 153.54,195.49 154.04,195.14 154.54,194.61 155.04,193.84 155.54,192.82 156.04,191.53 156.54,190.00 157.04,188.32 157.54,186.63 158.04,185.09 158.54,183.88 159.04,183.16 159.54,183.02 160.04,183.49 160.54,184.50 161.04,185.92 161.54,187.57 162.04,189.27 162.54,190.88 163.04,192.28 163.54,193.43 164.04,194.30 164.54,194.93 165.04,195.36 165.54,195.63 166.04,195.80 166.54,195.89" fill="none" stroke="#444" stroke-width="0.4" stroke-linejoin="round"/>
<polyline points="156.94,195.97 157.44,195.94 157.94,195.89 158.44,195.81 158.94,195.67 159.44,195.46 159.94,195.17 160.44,194.78 160.94,194.28 161.44,193.69 161.94,193.05 162.44,192.39 162.94,191.80 163.44,191.34 163.94,191.06 164.44,191.01 164.94,191.19 165.44,191.58 165.94,192.12 166.44,192.76 166.94,193.41 167.44,194.03 167.94,194.57 168.44,195.01 168.94,195.35 169.44,195.59 169.94,195.75 170.44,195.86 170.94,195.92 171.44,195.96" fill="none" stroke="#444" stroke-width="0.4" stroke-linejoin="round"/>
<polyline points="123.60,196.00 136.60,195.80 138.40,195.20 141.00,191.70 143.00,184.80 145.30,176.10 147.00,169.60 148.70,167.50 149.60,162.30 150.50,166.60 151.70,160.90 152.70,167.50 154.50,171.80 156.50,176.10 158.30,179.20 160.30,182.20 161.70,181.00 163.40,185.60 166.00,191.70 168.60,195.20 173.10,196.00" fill="none" stroke="#333" stroke-width="0.6" stroke-linejoin="round"/>
<polyline points="123.00,196.00 136.00,195.80 137.80,195.20 140.40,191.70 142.40,184.80 144.70,176.10 146.40,169.60 148.10,167.50 149.00,162.30 149.90,166.60 151.10,160.90 152.10,167.50 153.90,171.80 155.90,176.10 157.70,179.20 159.70,182.20 161.10,181.00 162.80,185.60 165.40,191.70 168.00,195.20 172.50,196.00" fill="none" stroke="#111" stroke-width="0.9" stroke-linejoin="round"/>
<polyline points="223.48,195.78 223.98,195.53 224.48,195.08 224.98,194.29 225.48,193.00 225.98,191.02 226.48,188.19 226.98,184.43 227.48,179.79 227.98,174.55 228.48,169.19 228.98,164.32 229.48,160.64 229.98,158.71 230.48,158.83 230.98,161.00 231.48,164.86 231.98,169.82 232.48,175.20 232.98,180.39 233.48,184.93 233.98,188.58 234.48,191.30 234.98,193.19 235.48,194.41 235.98,195.15 236.48,195.57" fill="none" stroke="#666" stroke-width="0.5" stroke-linejoin="round"/>
<polyline points="217.46,195.99 217.96,195.97 218.46,195.94 218.96,195.90 219.46,195.82 219.96,195.70 220.46,195.54 220.96,195.31 221.46,195.04 221.96,194.72 222.46,194.37 222.96,194.04 223.46,193.76 223.96,193.57 224.46,193.50 224.96,193.55 225.46,193.73 225.96,193.99 226.46,194.32 226.96,194.66 227.46,194.99 227.96,195.27 228.46,195.51 228.96,195.68 229.46,195.80 229.96,195.89 230.46,195.94 230.96,195.97 231.46,195.98" fill="none" stroke="#666" stroke-width="0.35" stroke-linejoin="round"/>
<polyline points="189.00,196.00 205.00,195.60 215.00,195.40 219.00,195.00 222.00,194.00 224.40,192.40 226.50,186.00 227.80,176.00 228.90,165.00 229.70,156.80 230.40,161.00 231.30,170.00 232.40,182.60 234.20,191.60 237.00,195.20 239.00,196.00" fill="none" stroke="#111" stroke-width="0.65" stroke-linejoin="round"/>
<polyline points="92.12,259.50 92.62,259.24 93.12,258.75 93.62,257.84 94.12,256.31 94.62,253.94 95.12,250.56 95.62,246.18 96.12,241.03 96.62,235.64 97.12,230.77 97.62,227.25 98.12,225.73 98.62,226.52 99.12,229.46 99.62,233.98 100.12,239.30 100.62,244.59 101.12,249.26 101.62,252.97 102.12,255.65 102.62,257.43 103.12,258.51 103.62,259.12 104.12,259.43" fill="none" stroke="#666" stroke-width="0.5" stroke-linejoin="round"/>
<polyline points="99.80,259.68 100.30,259.62 100.80,259.43 101.30,258.99 101.80,258.24 102.30,257.35 102.80,256.76 103.30,256.83 103.80,257.52 104.30,258.41 104.80,259.11 105.30,259.49 105.80,259.64" fill="none" stroke="#666" stroke-width="0.35" stroke-linejoin="round"/>
<polyline points="55.00,259.50 75.00,258.90 92.40,257.90 94.50,253.70 95.80,244.70 96.80,233.70 97.70,224.30 98.40,227.70 99.20,235.50 100.50,248.10 101.70,254.40 103.20,256.10 104.00,259.10 105.20,259.70" fill="none" stroke="#111" stroke-width="0.65" stroke-linejoin="round"/>
<polyline points="134.16,259.27 134.66,259.24 135.16,259.18 135.66,259.09 136.16,258.94 136.66,258.71 137.16,258.37 137.66,257.93 138.16,257.38 138.66,256.73 139.16,256.05 139.66,255.39 140.16,254.83 140.66,254.45 141.16,254.30 141.66,254.41 142.16,254.75 142.66,255.29 143.16,255.94 143.66,256.62 144.16,257.28 144.66,257.85 145.16,258.31 145.66,258.66 146.16,258.91 146.66,259.07 147.16,259.17 147.66,259.23 148.16,259.27" fill="none" stroke="#333" stroke-width="0.4" stroke-linejoin="round"/>
<polyline points="137.76,259.23 138.26,259.16 138.76,259.02 139.26,258.80 139.76,258.43 140.26,257.87 140.76,257.08 141.26,256.01 141.76,254.68 142.26,253.14 142.76,251.49 143.26,249.91 143.76,248.57 144.26,247.66 144.76,247.30 145.26,247.56 145.76,248.39 146.26,249.67 146.76,251.23 147.26,252.88 147.76,254.45 148.26,255.82 148.76,256.93 149.26,257.76 149.76,258.36 150.26,258.75 150.76,258.99 151.26,259.14 151.76,259.22" fill="none" stroke="#333" stroke-width="0.4" stroke-linejoin="round"/>
<polyline points="140.66,259.19 141.16,259.07 141.66,258.86 142.16,258.50 142.66,257.92 143.16,257.04 143.66,255.78 144.16,254.09 144.66,251.99 145.16,249.54 145.66,246.94 146.16,244.43 146.66,242.31 147.16,240.86 147.66,240.30 148.16,240.71 148.66,242.03 149.16,244.06 149.66,246.52 150.16,249.13 150.66,251.61 151.16,253.78 151.66,255.54 152.16,256.87 152.66,257.80 153.16,258.43 153.66,258.82 154.16,259.05 154.66,259.17" fill="none" stroke="#333" stroke-width="0.4" stroke-linejoin="round"/>
<polyline points="143.46,259.14 143.96,258.99 144.46,258.70 144.96,258.21 145.46,257.41 145.96,256.21 146.46,254.48 146.96,252.18 147.46,249.29 147.96,245.95 148.46,242.39 148.96,238.95 149.46,236.05 149.96,234.07 150.46,233.30 150.96,233.86 151.46,235.66 151.96,238.44 152.46,241.82 152.96,245.39 153.46,248.78 153.96,251.75 154.46,254.15 154.96,255.97 155.46,257.25 155.96,258.10 156.46,258.64 156.96,258.95 157.46,259.13" fill="none" stroke="#333" stroke-width="0.4" stroke-linejoin="round"/>
<polyline points="146.36,259.17 146.86,259.03 147.36,258.79 147.86,258.38 148.36,257.70 148.86,256.68 149.36,255.22 149.86,253.27 150.36,250.83 150.86,248.00 151.36,244.99 151.86,242.08 152.36,239.63 152.86,237.95 153.36,237.30 153.86,237.78 154.36,239.30 154.86,241.65 155.36,244.51 155.86,247.53 156.36,250.40 156.86,252.91 157.36,254.95 157.86,256.48 158.36,257.57 158.86,258.29 159.36,258.74 159.86,259.00 160.36,259.15" fill="none" stroke="#333" stroke-width="0.4" stroke-linejoin="round"/>
<polyline points="149.26,259.20 149.76,259.11 150.26,258.93 150.76,258.63 151.26,258.14 151.76,257.40 152.26,256.34 152.76,254.92 153.26,253.14 153.76,251.08 154.26,248.89 154.76,246.78 155.26,244.99 155.76,243.77 156.26,243.30 156.76,243.65 157.26,244.75 157.76,246.46 158.26,248.54 158.76,250.74 159.26,252.83 159.76,254.65 160.26,256.13 160.76,257.25 161.26,258.04 161.76,258.56 162.26,258.89 162.76,259.09 163.26,259.19" fill="none" stroke="#333" stroke-width="0.4" stroke-linejoin="round"/>
<polyline points="152.86,259.23 153.36,259.17 153.86,259.05 154.36,258.84 154.86,258.50 155.36,257.99 155.86,257.26 156.36,256.29 156.86,255.07 157.36,253.65 157.86,252.14 158.36,250.69 158.86,249.46 159.36,248.63 159.86,248.30 160.36,248.54 160.86,249.30 161.36,250.47 161.86,251.90 162.36,253.41 162.86,254.85 163.36,256.11 163.86,257.12 164.36,257.89 164.86,258.43 165.36,258.79 165.86,259.02 166.36,259.15 166.86,259.23" fill="none" stroke="#333" stroke-width="0.4" stroke-linejoin="round"/>
<polyline points="156.46,259.27 156.96,259.24 157.46,259.18 157.96,259.09 158.46,258.94 158.96,258.71 159.46,258.37 159.96,257.93 160.46,257.38 160.96,256.73 161.46,256.05 161.96,255.39 162.46,254.83 162.96,254.45 163.46,254.30 163.96,254.41 164.46,254.75 164.96,255.29 165.46,255.94 165.96,256.62 166.46,257.28 166.96,257.85 167.46,258.31 167.96,258.66 168.46,258.91 168.96,259.07 169.46,259.17 169.96,259.23 170.46,259.27" fill="none" stroke="#333" stroke-width="0.4" stroke-linejoin="round"/>
<polyline points="123.60,259.30 136.60,259.10 138.20,258.80 140.10,256.10 141.80,252.90 144.70,245.00 146.80,237.80 149.00,232.80 150.40,230.60 151.20,228.80 151.90,227.80 152.60,229.80 153.30,231.40 154.70,235.70 156.90,240.70 159.10,245.00 161.20,247.90 163.40,251.50 165.50,255.80 167.70,258.90 173.10,259.30" fill="none" stroke="#333" stroke-width="0.6" stroke-linejoin="round"/>
<polyline points="123.00,259.30 136.00,259.10 137.60,258.80 139.50,256.10 141.20,252.90 144.10,245.00 146.20,237.80 148.40,232.80 149.80,230.60 150.60,228.80 151.30,227.80 152.00,229.80 152.70,231.40 154.10,235.70 156.30,240.70 158.50,245.00 160.60,247.90 162.80,251.50 164.90,255.80 167.10,258.90 172.50,259.30" fill="none" stroke="#111" stroke-width="0.95" stroke-linejoin="round"/>
<polyline points="226.00,259.46 226.50,259.19 227.00,258.67 227.50,257.74 228.00,256.19 228.50,253.80 229.00,250.39 229.50,245.89 230.00,240.47 230.50,234.55 231.00,228.78 231.50,224.00 232.00,220.98 232.50,220.25 233.00,221.94 233.50,225.74 234.00,231.02 234.50,236.94 235.00,242.73 235.50,247.82 236.00,251.88 236.50,254.87 237.00,256.90 237.50,258.17 238.00,258.92 238.50,259.32" fill="none" stroke="#666" stroke-width="0.5" stroke-linejoin="round"/>
<polyline points="234.12,259.68 234.62,259.58 235.12,259.25 235.62,258.47 236.12,257.22 236.62,256.04 237.12,255.74 237.62,256.54 238.12,257.86 238.62,258.91 239.12,259.45 239.62,259.64" fill="none" stroke="#666" stroke-width="0.35" stroke-linejoin="round"/>
<polyline points="190.00,259.50 210.00,258.90 226.20,258.10 227.60,253.70 228.50,248.10 230.30,232.70 231.30,222.70 232.10,218.30 232.80,222.20 233.50,228.70 234.30,240.90 235.50,252.70 236.40,254.40 237.40,254.10 238.40,258.50 239.20,259.70" fill="none" stroke="#111" stroke-width="0.65" stroke-linejoin="round"/>
<line x1="54.7" y1="269.5" x2="236" y2="269.5" stroke="#000" stroke-width="1.0"/>
<polygon points="235.2,267.7 239.0,269.5 235.2,271.3" fill="#000"/>
<text x="147" y="277.9" font-size="6.5" font-weight="bold" text-anchor="middle" fill="#000">CFSE</text>
<text x="264.6" y="122.6" font-size="11.5" font-weight="bold" text-anchor="start" fill="#000">D</text>
<line x1="296.5" y1="122.0" x2="296.5" y2="165.8" stroke="#000" stroke-width="1.0"/>
<line x1="296.5" y1="168.2" x2="296.5" y2="184.9" stroke="#000" stroke-width="1.0"/>
<line x1="294.0" y1="122.4" x2="296.3" y2="122.4" stroke="#000" stroke-width="0.7"/>
<text x="292.1" y="124.10000000000001" font-size="4.9" font-weight="bold" text-anchor="end" fill="#000">1.75</text>
<line x1="294.0" y1="134.8" x2="296.3" y2="134.8" stroke="#000" stroke-width="0.7"/>
<text x="292.1" y="136.5" font-size="4.9" font-weight="bold" text-anchor="end" fill="#000">1.25</text>
<line x1="294.0" y1="147.2" x2="296.3" y2="147.2" stroke="#000" stroke-width="0.7"/>
<text x="292.1" y="148.89999999999998" font-size="4.9" font-weight="bold" text-anchor="end" fill="#000">0.75</text>
<line x1="294.0" y1="159.1" x2="296.3" y2="159.1" stroke="#000" stroke-width="0.7"/>
<text x="292.1" y="160.79999999999998" font-size="4.9" font-weight="bold" text-anchor="end" fill="#000">0.25</text>
<line x1="294.0" y1="169.8" x2="296.3" y2="169.8" stroke="#000" stroke-width="0.7"/>
<text x="292.1" y="171.5" font-size="4.9" font-weight="bold" text-anchor="end" fill="#000">0.02</text>
<line x1="294.0" y1="184.7" x2="296.3" y2="184.7" stroke="#000" stroke-width="0.7"/>
<text x="292.1" y="186.39999999999998" font-size="4.9" font-weight="bold" text-anchor="end" fill="#000">0.00</text>
<line x1="294.8" y1="165.8" x2="297.8" y2="165.8" stroke="#000" stroke-width="0.7"/>
<line x1="294.8" y1="168.2" x2="297.8" y2="168.2" stroke="#000" stroke-width="0.7"/>
<line x1="296.3" y1="184.5" x2="391" y2="184.5" stroke="#000" stroke-width="1.0"/>
<line x1="320.6" y1="184.7" x2="320.6" y2="186.3" stroke="#000" stroke-width="0.6"/>
<line x1="367" y1="184.7" x2="367" y2="186.3" stroke="#000" stroke-width="0.6"/>
<circle cx="320.8" cy="126.6" r="2.0" fill="#000"/>
<circle cx="314.8" cy="154.6" r="2.0" fill="#000"/>
<circle cx="320.6" cy="155.3" r="2.0" fill="#000"/>
<circle cx="314.8" cy="160.3" r="2.0" fill="#000"/>
<circle cx="320.6" cy="162.6" r="2.0" fill="#000"/>
<circle cx="326" cy="161.5" r="2.0" fill="#000"/>
<circle cx="331.7" cy="161.5" r="2.0" fill="#000"/>
<line x1="304.4" y1="155.5" x2="336.3" y2="155.5" stroke="#000" stroke-width="1.0"/>
<circle cx="356" cy="170.9" r="1.8" fill="#fff" stroke="#000" stroke-width="0.8"/>
<circle cx="361.6" cy="172.8" r="1.8" fill="#fff" stroke="#000" stroke-width="0.8"/>
<circle cx="367" cy="172.8" r="1.8" fill="#fff" stroke="#000" stroke-width="0.8"/>
<circle cx="372.9" cy="171.3" r="1.8" fill="#fff" stroke="#000" stroke-width="0.8"/>
<circle cx="367" cy="179.3" r="1.8" fill="#fff" stroke="#000" stroke-width="0.8"/>
<line x1="351.3" y1="173.5" x2="382.9" y2="173.5" stroke="#000" stroke-width="1.0"/>
<text x="343.5" y="120.8" font-size="6.2" font-weight="bold" text-anchor="middle" fill="#000">IgG1</text>
<text x="277.5" y="146" font-size="6.8" font-weight="bold" text-anchor="middle" fill="#000" transform="rotate(-90 277.5 146)">O.D.450</text>
<text x="319" y="191.9" font-size="6.0" font-weight="bold" text-anchor="middle" fill="#000">Immunized</text>
<text x="366" y="191.9" font-size="6.0" font-weight="bold" text-anchor="middle" fill="#000">Control</text>
<line x1="422.5" y1="121.6" x2="422.5" y2="165.0" stroke="#000" stroke-width="1.0"/>
<line x1="422.5" y1="167.4" x2="422.5" y2="184.8" stroke="#000" stroke-width="1.0"/>
<line x1="420.5" y1="122.4" x2="422.8" y2="122.4" stroke="#000" stroke-width="0.7"/>
<text x="418.6" y="124.10000000000001" font-size="4.9" font-weight="bold" text-anchor="end" fill="#000">0.7</text>
<line x1="420.5" y1="128.70000000000002" x2="422.8" y2="128.70000000000002" stroke="#000" stroke-width="0.7"/>
<text x="418.6" y="130.4" font-size="4.9" font-weight="bold" text-anchor="end" fill="#000">0.6</text>
<line x1="420.5" y1="135.0" x2="422.8" y2="135.0" stroke="#000" stroke-width="0.7"/>
<text x="418.6" y="136.7" font-size="4.9" font-weight="bold" text-anchor="end" fill="#000">0.5</text>
<line x1="420.5" y1="141.3" x2="422.8" y2="141.3" stroke="#000" stroke-width="0.7"/>
<text x="418.6" y="143.0" font-size="4.9" font-weight="bold" text-anchor="end" fill="#000">0.4</text>
<line x1="420.5" y1="147.6" x2="422.8" y2="147.6" stroke="#000" stroke-width="0.7"/>
<text x="418.6" y="149.29999999999998" font-size="4.9" font-weight="bold" text-anchor="end" fill="#000">0.3</text>
<line x1="420.5" y1="153.9" x2="422.8" y2="153.9" stroke="#000" stroke-width="0.7"/>
<text x="418.6" y="155.6" font-size="4.9" font-weight="bold" text-anchor="end" fill="#000">0.2</text>
<line x1="420.5" y1="160.2" x2="422.8" y2="160.2" stroke="#000" stroke-width="0.7"/>
<text x="418.6" y="161.89999999999998" font-size="4.9" font-weight="bold" text-anchor="end" fill="#000">0.1</text>
<line x1="420.5" y1="169.8" x2="422.8" y2="169.8" stroke="#000" stroke-width="0.7"/>
<text x="418.6" y="171.5" font-size="4.9" font-weight="bold" text-anchor="end" fill="#000">0.01</text>
<line x1="420.5" y1="184.6" x2="422.8" y2="184.6" stroke="#000" stroke-width="0.7"/>
<text x="418.6" y="186.29999999999998" font-size="4.9" font-weight="bold" text-anchor="end" fill="#000">0.00</text>
<line x1="421.3" y1="165.0" x2="424.3" y2="165.0" stroke="#000" stroke-width="0.7"/>
<line x1="421.3" y1="167.4" x2="424.3" y2="167.4" stroke="#000" stroke-width="0.7"/>
<line x1="422.8" y1="184.5" x2="510" y2="184.5" stroke="#000" stroke-width="1.0"/>
<line x1="446.5" y1="184.6" x2="446.5" y2="186.2" stroke="#000" stroke-width="0.6"/>
<line x1="493" y1="184.6" x2="493" y2="186.2" stroke="#000" stroke-width="0.6"/>
<circle cx="446.4" cy="123.6" r="2.0" fill="#000"/>
<circle cx="446.4" cy="154.1" r="2.0" fill="#000"/>
<circle cx="440.4" cy="160.1" r="2.0" fill="#000"/>
<circle cx="446.4" cy="161.6" r="2.0" fill="#000"/>
<circle cx="452.1" cy="157.9" r="2.0" fill="#000"/>
<path d="M444.10,184.40 A2.0,2.0 0 0 1 448.10,184.40 Z" fill="#000"/>
<line x1="431" y1="155.5" x2="462" y2="155.5" stroke="#000" stroke-width="1.0"/>
<path d="M479.20,184.40 A2.0,2.0 0 0 1 483.20,184.40" fill="#fff" stroke="#000" stroke-width="0.8"/>
<path d="M484.60,184.40 A2.0,2.0 0 0 1 488.60,184.40" fill="#fff" stroke="#000" stroke-width="0.8"/>
<path d="M490.00,184.40 A2.0,2.0 0 0 1 494.00,184.40" fill="#fff" stroke="#000" stroke-width="0.8"/>
<path d="M495.40,184.40 A2.0,2.0 0 0 1 499.40,184.40" fill="#fff" stroke="#000" stroke-width="0.8"/>
<path d="M500.80,184.40 A2.0,2.0 0 0 1 504.80,184.40" fill="#fff" stroke="#000" stroke-width="0.8"/>
<text x="469.8" y="120.8" font-size="6.2" font-weight="bold" text-anchor="middle" fill="#000">IgG2</text>
<text x="406.4" y="145.8" font-size="7.0" font-weight="bold" text-anchor="middle" fill="#000" transform="rotate(-90 406.4 145.8)">O.D.450</text>
<text x="445" y="193.3" font-size="6.3" font-weight="bold" text-anchor="middle" fill="#000">Immunized</text>
<text x="491.8" y="193.3" font-size="6.0" font-weight="bold" text-anchor="middle" fill="#000">Control</text>
<line x1="297.5" y1="206.5" x2="297.5" y2="252.4" stroke="#000" stroke-width="1.0"/>
<line x1="297.5" y1="255.0" x2="297.5" y2="268.6" stroke="#000" stroke-width="1.0"/>
<line x1="295.0" y1="206.9" x2="297.3" y2="206.9" stroke="#000" stroke-width="0.7"/>
<text x="293.1" y="208.6" font-size="4.9" font-weight="bold" text-anchor="end" fill="#000">0.10</text>
<line x1="295.0" y1="220.7" x2="297.3" y2="220.7" stroke="#000" stroke-width="0.7"/>
<text x="293.1" y="222.39999999999998" font-size="4.9" font-weight="bold" text-anchor="end" fill="#000">0.07</text>
<line x1="295.0" y1="234.4" x2="297.3" y2="234.4" stroke="#000" stroke-width="0.7"/>
<text x="293.1" y="236.1" font-size="4.9" font-weight="bold" text-anchor="end" fill="#000">0.04</text>
<line x1="295.0" y1="248.3" x2="297.3" y2="248.3" stroke="#000" stroke-width="0.7"/>
<text x="293.1" y="250.0" font-size="4.9" font-weight="bold" text-anchor="end" fill="#000">0.01</text>
<line x1="295.0" y1="257.1" x2="297.3" y2="257.1" stroke="#000" stroke-width="0.7"/>
<text x="293.1" y="258.8" font-size="4.9" font-weight="bold" text-anchor="end" fill="#000">0.01</text>
<line x1="295.0" y1="268.5" x2="297.3" y2="268.5" stroke="#000" stroke-width="0.7"/>
<text x="293.1" y="270.2" font-size="4.9" font-weight="bold" text-anchor="end" fill="#000">0.00</text>
<line x1="295.8" y1="252.4" x2="298.8" y2="252.4" stroke="#000" stroke-width="0.7"/>
<line x1="295.8" y1="255.0" x2="298.8" y2="255.0" stroke="#000" stroke-width="0.7"/>
<line x1="297.3" y1="268.5" x2="391.6" y2="268.5" stroke="#000" stroke-width="1.0"/>
<line x1="320.6" y1="268.5" x2="320.6" y2="270.1" stroke="#000" stroke-width="0.6"/>
<line x1="366.5" y1="268.5" x2="366.5" y2="270.1" stroke="#000" stroke-width="0.6"/>
<circle cx="320.8" cy="213.5" r="2.0" fill="#000"/>
<circle cx="320.6" cy="247.4" r="2.0" fill="#000"/>
<path d="M307.60,268.30 A2.0,2.0 0 0 1 311.60,268.30 Z" fill="#000"/>
<path d="M313.00,268.30 A2.0,2.0 0 0 1 317.00,268.30 Z" fill="#000"/>
<path d="M318.40,268.30 A2.0,2.0 0 0 1 322.40,268.30 Z" fill="#000"/>
<path d="M324.20,268.30 A2.0,2.0 0 0 1 328.20,268.30 Z" fill="#000"/>
<path d="M329.50,268.30 A2.0,2.0 0 0 1 333.50,268.30 Z" fill="#000"/>
<line x1="305.3" y1="246.5" x2="336.1" y2="246.5" stroke="#000" stroke-width="1.0"/>
<path d="M354.60,268.30 A2.0,2.0 0 0 1 358.60,268.30" fill="#fff" stroke="#000" stroke-width="0.8"/>
<path d="M360.00,268.30 A2.0,2.0 0 0 1 364.00,268.30" fill="#fff" stroke="#000" stroke-width="0.8"/>
<path d="M365.40,268.30 A2.0,2.0 0 0 1 369.40,268.30" fill="#fff" stroke="#000" stroke-width="0.8"/>
<path d="M370.80,268.30 A2.0,2.0 0 0 1 374.80,268.30" fill="#fff" stroke="#000" stroke-width="0.8"/>
<path d="M376.20,268.30 A2.0,2.0 0 0 1 380.20,268.30" fill="#fff" stroke="#000" stroke-width="0.8"/>
<text x="345" y="205.6" font-size="6.2" font-weight="bold" text-anchor="middle" fill="#000">IgG3</text>
<text x="278.0" y="235.4" font-size="6.9" font-weight="bold" text-anchor="middle" fill="#000" transform="rotate(-90 278.0 235.4)">O.D.450</text>
<text x="319.5" y="276.6" font-size="6.0" font-weight="bold" text-anchor="middle" fill="#000">Immunized</text>
<text x="366.5" y="276.6" font-size="6.0" font-weight="bold" text-anchor="middle" fill="#000">Control</text>
<line x1="422.5" y1="206.0" x2="422.5" y2="250.0" stroke="#000" stroke-width="1.0"/>
<line x1="422.5" y1="251.6" x2="422.5" y2="268.0" stroke="#000" stroke-width="1.0"/>
<line x1="420.09999999999997" y1="206.3" x2="422.4" y2="206.3" stroke="#000" stroke-width="0.7"/>
<text x="418.2" y="208.0" font-size="4.9" font-weight="bold" text-anchor="end" fill="#000">0.10</text>
<line x1="420.09999999999997" y1="220.2" x2="422.4" y2="220.2" stroke="#000" stroke-width="0.7"/>
<text x="418.2" y="221.89999999999998" font-size="4.9" font-weight="bold" text-anchor="end" fill="#000">0.07</text>
<line x1="420.09999999999997" y1="234.1" x2="422.4" y2="234.1" stroke="#000" stroke-width="0.7"/>
<text x="418.2" y="235.79999999999998" font-size="4.9" font-weight="bold" text-anchor="end" fill="#000">0.04</text>
<line x1="420.09999999999997" y1="248.1" x2="422.4" y2="248.1" stroke="#000" stroke-width="0.7"/>
<text x="418.2" y="249.79999999999998" font-size="4.9" font-weight="bold" text-anchor="end" fill="#000">0.01</text>
<line x1="420.09999999999997" y1="252.9" x2="422.4" y2="252.9" stroke="#000" stroke-width="0.7"/>
<text x="418.2" y="254.6" font-size="4.9" font-weight="bold" text-anchor="end" fill="#000">0.01</text>
<line x1="420.09999999999997" y1="267.9" x2="422.4" y2="267.9" stroke="#000" stroke-width="0.7"/>
<text x="418.2" y="269.59999999999997" font-size="4.9" font-weight="bold" text-anchor="end" fill="#000">0.00</text>
<line x1="422.4" y1="267.5" x2="515" y2="267.5" stroke="#000" stroke-width="1.0"/>
<line x1="446.5" y1="267.9" x2="446.5" y2="269.5" stroke="#000" stroke-width="0.6"/>
<line x1="492" y1="267.9" x2="492" y2="269.5" stroke="#000" stroke-width="0.6"/>
<circle cx="446.4" cy="260" r="2.0" fill="#000"/>
<circle cx="434.8" cy="265.9" r="2.0" fill="#000"/>
<circle cx="448.7" cy="265.5" r="2.0" fill="#000"/>
<path d="M439.00,267.90 A1.8,1.8 0 0 1 442.60,267.90 Z" fill="#000"/>
<path d="M454.70,267.90 A1.8,1.8 0 0 1 458.30,267.90 Z" fill="#000"/>
<line x1="429.8" y1="266.4" x2="462.2" y2="266.4" stroke="#000" stroke-width="0.8"/>
<path d="M479.70,267.90 A2.0,2.0 0 0 1 483.70,267.90" fill="#fff" stroke="#000" stroke-width="0.8"/>
<path d="M485.10,267.90 A2.0,2.0 0 0 1 489.10,267.90" fill="#fff" stroke="#000" stroke-width="0.8"/>
<path d="M490.50,267.90 A2.0,2.0 0 0 1 494.50,267.90" fill="#fff" stroke="#000" stroke-width="0.8"/>
<path d="M495.90,267.90 A2.0,2.0 0 0 1 499.90,267.90" fill="#fff" stroke="#000" stroke-width="0.8"/>
<path d="M501.60,267.90 A2.0,2.0 0 0 1 505.60,267.90" fill="#fff" stroke="#000" stroke-width="0.8"/>
<text x="468.5" y="205.6" font-size="6.2" font-weight="bold" text-anchor="middle" fill="#000">IgG4</text>
<text x="403.9" y="235.7" font-size="6.9" font-weight="bold" text-anchor="middle" fill="#000" transform="rotate(-90 403.9 235.7)">O.D.450</text>
<text x="444.5" y="276.4" font-size="6.0" font-weight="bold" text-anchor="middle" fill="#000">Immunized</text>
<text x="491" y="276.4" font-size="6.0" font-weight="bold" text-anchor="middle" fill="#000">Control</text>
</svg>
</body></html>
